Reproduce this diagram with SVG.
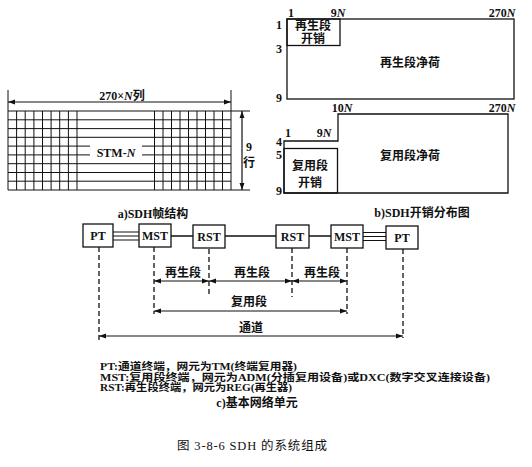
<svg xmlns="http://www.w3.org/2000/svg" width="532" height="467" viewBox="0 0 532 467">
<style>
.t{font-family:"Liberation Serif","Noto Sans CJK SC",serif;font-weight:bold;font-size:12px;fill:#111;text-anchor:middle}
.l{font-family:"Liberation Serif","Noto Sans CJK SC",serif;font-weight:bold;font-size:10.5px;fill:#111}
.cap{font-family:"Liberation Serif","Noto Sans CJK SC",serif;font-size:12.5px;fill:#111;text-anchor:middle}
.s{stroke:#111;stroke-width:1.3;fill:none}
.g{stroke:#111;stroke-width:1;fill:none}
.b{stroke:#111;stroke-width:1.3;fill:#fff}
.d{stroke:#111;stroke-width:1.3;fill:none;stroke-dasharray:5,3}
.a{stroke:#111;stroke-width:1.2;fill:none;marker-start:url(#ah);marker-end:url(#ah)}
</style>
<defs>
<marker id="ah" viewBox="0 0 10 10" refX="10" refY="5" markerWidth="7" markerHeight="7" markerUnits="userSpaceOnUse" orient="auto-start-reverse">
<path d="M0,1.5 L10,5 L0,8.5 z" fill="#111"/>
</marker>
</defs>
<rect width="532" height="467" fill="#fff"/>

<g id="frame-structure">
<path class="g" d="M8,111H250M8,190H250M8,90V111M231,90V111"/>
<path class="g" d="M8,119.8H77M8,128.6H77M8,137.3H77M8,146.1H77M8,154.9H77M8,163.7H77M8,172.5H77M8,181.2H77"/>
<path class="g" d="M154.5,119.8H231M154.5,128.6H231M154.5,137.3H231M154.5,146.1H231M154.5,154.9H231M154.5,163.7H231M154.5,172.5H231M154.5,181.2H231"/>
<path class="g" d="M8,111V190M16.6,111V190M25.2,111V190M33.9,111V190M42.5,111V190M51.1,111V190M59.7,111V190M68.4,111V190M77,111V190"/>
<path class="g" d="M154.5,111V190M163,111V190M171.5,111V190M180,111V190M188.5,111V190M197,111V190M205.5,111V190M214,111V190M222.5,111V190M231,111V190"/>
<path class="g" d="M77,119.8H154.5M77,128.6H154.5M77,137.3H154.5M77,163.7H154.5M77,172.5H154.5M77,181.2H154.5M77,146.1H90M142,146.1H154.5M77,154.9H90M142,154.9H154.5"/>
<line class="a" x1="8" y1="102" x2="231" y2="102"/>
<line class="a" x1="242" y1="111" x2="242" y2="190"/>
<rect x="95" y="93" width="55" height="8" fill="#fff"/>
<text class="t" x="122" y="100">270×<tspan font-style="italic">N</tspan>列</text>
<text class="t" x="116" y="157">STM-<tspan font-style="italic">N</tspan></text>
<text class="t" x="249" y="151">9</text>
<text class="t" x="249" y="167">行</text>
<text class="t" x="153" y="218" font-size="12.5">a)SDH帧结构</text>
</g>

<g id="rs-overhead">
<rect class="s" x="287" y="19" width="227" height="80"/>
<rect class="s" x="287" y="19" width="53" height="26.5"/>
<text class="t" x="291" y="17">1</text>
<text class="t" x="338" y="17">9<tspan font-style="italic">N</tspan></text>
<text class="t" x="502" y="17">270<tspan font-style="italic">N</tspan></text>
<text class="t" x="279" y="29">1</text>
<text class="t" x="279" y="53">3</text>
<text class="t" x="279" y="102">9</text>
<text class="t" x="313" y="30" font-size="10">再生段</text>
<text class="t" x="313" y="43" font-size="10">开销</text>
<text class="t" x="410" y="67" font-size="12.5">再生段净荷</text>
</g>

<g id="ms-overhead">
<path class="s" d="M284,193V141H338V114H508V193Z"/>
<rect class="s" x="284" y="148.5" width="53.5" height="44.5"/>
<text class="t" x="342" y="112">10<tspan font-style="italic">N</tspan></text>
<text class="t" x="502" y="112">270<tspan font-style="italic">N</tspan></text>
<text class="t" x="288" y="137">1</text>
<text class="t" x="324" y="137">9<tspan font-style="italic">N</tspan></text>
<text class="t" x="279" y="146" font-size="11">4</text>
<text class="t" x="279" y="158.5" font-size="11">5</text>
<text class="t" x="279" y="195">9</text>
<text class="t" x="310" y="169.5" font-size="12.5">复用段</text>
<text class="t" x="310" y="187" font-size="12.5">开销</text>
<text class="t" x="410" y="160" font-size="12.5">复用段净荷</text>
<text class="t" x="422" y="217" font-size="12.5">b)SDH开销分布图</text>
</g>

<g id="connectors">
<path class="g" d="M113,232H139M113,236H139M113,240H139"/>
<path class="g" d="M363,232.5H386M363,236.5H386M363,240.5H386"/>
<path class="s" d="M171,236H193M225,236H276M309,236H331"/>
<line class="d" x1="99" y1="247" x2="99" y2="343"/>
<line class="d" x1="154" y1="247" x2="154" y2="314"/>
<line class="d" x1="209" y1="249" x2="209" y2="297"/>
<line class="d" x1="292" y1="248" x2="292" y2="297"/>
<line class="d" x1="347" y1="248" x2="347" y2="314"/>
<line class="d" x1="403" y1="249" x2="403" y2="338"/>
<line class="a" x1="154" y1="281" x2="209" y2="281"/>
<line class="a" x1="209" y1="281" x2="292" y2="281"/>
<line class="a" x1="292" y1="281" x2="347" y2="281"/>
<line class="a" x1="154" y1="311" x2="347" y2="311"/>
<line class="a" x1="99" y1="336" x2="403" y2="336"/>
<text class="t" x="183" y="277" font-size="12.5">再生段</text>
<text class="t" x="252" y="277" font-size="12.5">再生段</text>
<text class="t" x="322" y="277" font-size="12.5">再生段</text>
<text class="t" x="249" y="306" font-size="12.5">复用段</text>
<text class="t" x="251" y="332" font-size="12.5">通道</text>
</g>

<g id="pt1"><rect class="b" x="83" y="224" width="30" height="23"/><text class="t" x="98" y="240">PT</text></g>
<g id="mst1"><rect class="b" x="139" y="224" width="32" height="23"/><text class="t" x="155" y="240">MST</text></g>
<g id="rst1"><rect class="b" x="193" y="225" width="32" height="23"/><text class="t" x="209" y="241">RST</text></g>
<g id="rst2"><rect class="b" x="276" y="225" width="33" height="23"/><text class="t" x="292.5" y="241">RST</text></g>
<g id="mst2"><rect class="b" x="331" y="225" width="32" height="23"/><text class="t" x="347" y="241">MST</text></g>
<g id="pt2"><rect class="b" x="386" y="226" width="32" height="23"/><text class="t" x="402" y="242">PT</text></g>

<g id="legend">
<text class="l" x="100" y="370" textLength="197" lengthAdjust="spacingAndGlyphs">PT:通道终端，网元为TM(终端复用器)</text>
<text class="l" x="100" y="380.5" textLength="390" lengthAdjust="spacingAndGlyphs">MST:复用段终端，网元为ADM(分插复用设备)或DXC(数字交叉连接设备)</text>
<text class="l" x="100" y="391" textLength="192" lengthAdjust="spacingAndGlyphs">RST:再生段终端，网元为REG(再生器)</text>
<text class="t" x="257" y="407" font-size="12.5">c)基本网络单元</text>
<text class="cap" x="252" y="450" textLength="150" lengthAdjust="spacing">图 3-8-6   SDH 的系统组成</text>
</g>
</svg>
